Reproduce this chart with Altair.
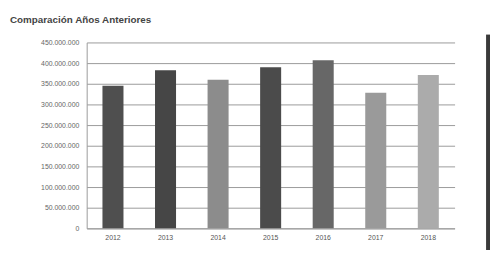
import altair as alt
import pandas as pd

years = ["2012", "2013", "2014", "2015", "2016", "2017", "2018"]
values = [345000000, 383000000, 360000000, 390000000, 407000000, 328000000, 371000000]
colors = ["#4f4f4f", "#464646", "#8c8c8c", "#4b4b4b", "#676767", "#9a9a9a", "#ababab"]

df = pd.DataFrame({"year": years, "value": values, "color": colors})

bars = alt.Chart(df).mark_bar().encode(
    x=alt.X("year:N", sort=years, title=None,
            scale=alt.Scale(paddingInner=0.6, paddingOuter=0.3),
            axis=alt.Axis(labelAngle=0, ticks=False, domain=True, domainColor="#9a9a9a",
                          labelFontSize=7, labelColor="#555", labelPadding=5, grid=False)),
    y=alt.Y("value:Q", title=None,
            scale=alt.Scale(domain=[0, 450000000], nice=False),
            axis=alt.Axis(values=list(range(0, 450000001, 50000000)),
                          labelExpr="join(split(format(datum.value, ',d'), ','), '.')",
                          ticks=False, domain=True, domainColor="#9a9a9a",
                          labelFontSize=7, labelColor="#666", labelPadding=8,
                          minExtent=78, grid=True, gridColor="#9a9a9a", gridWidth=1)),
    color=alt.Color("color:N", scale=None, legend=None),
)

strip = alt.Chart(pd.DataFrame({"a": [1]})).mark_rect(color="#3a3a3a").encode(
    x=alt.value(406), x2=alt.value(410), y=alt.value(-8), y2=alt.value(211)
)

chart = alt.layer(bars, strip).properties(
    width=374, height=189,
    padding={"left": 2, "top": 5, "right": 0, "bottom": 0},
    title=alt.TitleParams("Comparación Años Anteriores", anchor="start", frame="bounds",
                          fontSize=10, fontWeight="bold", color="#444",
                          font="Liberation Sans", offset=10),
).configure(
    font="Liberation Sans",
).configure_view(stroke=None)

chart.save("out.html", embed_options={"renderer": "svg", "actions": False})
